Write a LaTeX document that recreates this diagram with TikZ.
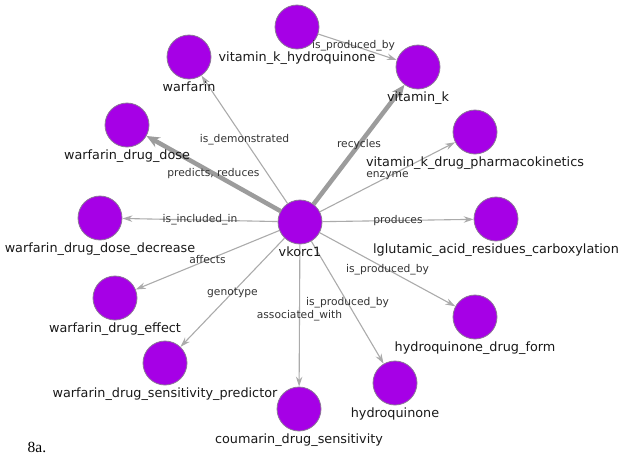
\documentclass[tikz,border=0pt]{standalone}
\usepackage{fontspec}
\setmainfont{DejaVu Sans}
\newfontfamily\capfont{Liberation Serif}
\usetikzlibrary{positioning,arrows.meta}

\definecolor{entfill}{HTML}{A600E6}
\definecolor{entdraw}{HTML}{8C7898}
\definecolor{edgegray}{HTML}{ABABAB}
\definecolor{heavygray}{HTML}{9C9C9C}
\definecolor{labgray}{HTML}{333333}

\begin{document}
\begin{tikzpicture}[x=1pt, y=-1pt,
    ent/.style={circle, fill=entfill, draw=entdraw, line width=0.8pt, minimum size=44pt, inner sep=0pt},
    nlabel/.style={font=\fontsize{12.8}{15}\selectfont, text=black!90, inner sep=0pt, text height=9.5pt, text depth=2.9pt},
    elabel/.style={font=\fontsize{10.7}{13}\selectfont, text=labgray, inner sep=0pt, midway},
    arrow/.style={-{Stealth[length=10pt, width=6.5pt]}, draw=edgegray, line width=1.1pt},
    heavy/.style={-{Stealth[length=13pt, width=11pt]}, draw=heavygray, line width=4.5pt}]

\useasboundingbox (0,0) rectangle (624,456);

%srednji cvor
\node (vk1) at (300,222) [ent] {};

%gornji cvorovi
\node (vkh) at (297,27) [ent] {};
\node (war) at (189,57) [ent] {};
\node (vitk) at (418,67) [ent] {};
\node (wdd) at (127,125) [ent] {};
\node (vkdp) at (475,132) [ent] {};

%bocni cvorovi
\node (wddd) at (100,218) [ent] {};
\node (lgl) at (496,219) [ent] {};
\node (wde) at (115,298) [ent] {};
\node (hqdf) at (475,317) [ent] {};

%donji cvorovi
\node (wdsp) at (165,363) [ent] {};
\node (hq) at (395,383) [ent] {};
\node (cds) at (299,409) [ent] {};

%strelice
\draw[arrow] (vkh) -- node[elabel, pos=0.45] {is\_produced\_by} (vitk);
\draw[heavy] (vk1) -- node[elabel] {recycles} (vitk);
\draw[heavy] (vk1) -- node[elabel] {predicts, reduces} (wdd);
\draw[arrow] (vk1) -- node[elabel] {is\_demonstrated} (war);
\draw[arrow] (vk1) -- node[elabel, yshift=1pt] {enzyme} (vkdp);
\draw[arrow] (vk1) -- node[elabel] {produces} (lgl);
\draw[arrow] (vk1) -- node[elabel] {is\_included\_in} (wddd);
\draw[arrow] (vk1) -- node[elabel] {affects} (wde);
\draw[arrow] (vk1) -- node[elabel] {genotype} (wdsp);
\draw[arrow] (vk1) -- node[elabel] {associated\_with} (cds);
\draw[arrow] (vk1) -- node[elabel] {is\_produced\_by} (hq);
\draw[arrow] (vk1) -- node[elabel] {is\_produced\_by} (hqdf);

%nazivi cvorova
\begin{scope}[node distance=2.8pt]
    \node (vk1l) [nlabel, below=of vk1] {vkorc1};
    \node (vkhl) [nlabel, below=of vkh] {vitamin\_k\_hydroquinone};
    \node (warl) [nlabel, below=of war] {warfarin};
    \node (vitkl) [nlabel, below=of vitk] {vitamin\_k};
    \node (wddl) [nlabel, below=of wdd] {warfarin\_drug\_dose};
    \node (vkdpl) [nlabel, below=of vkdp] {vitamin\_k\_drug\_pharmacokinetics};
    \node (wdddl) [nlabel, below=of wddd] {warfarin\_drug\_dose\_decrease};
    \node (lgll) [nlabel, below=of lgl] {lglutamic\_acid\_residues\_carboxylation};
    \node (wdel) [nlabel, below=of wde] {warfarin\_drug\_effect};
    \node (hqdfl) [nlabel, below=of hqdf] {hydroquinone\_drug\_form};
    \node (wdspl) [nlabel, below=of wdsp] {warfarin\_drug\_sensitivity\_predictor};
    \node (hql) [nlabel, below=of hq] {hydroquinone};
    \node (cdsl) [nlabel, below=of cds] {coumarin\_drug\_sensitivity};
\end{scope}

%oznaka slike
\node (cap) at (37,447) [font=\capfont\fontsize{15.5}{18}\selectfont, inner sep=0pt] {8a.};

\end{tikzpicture}
\end{document}
